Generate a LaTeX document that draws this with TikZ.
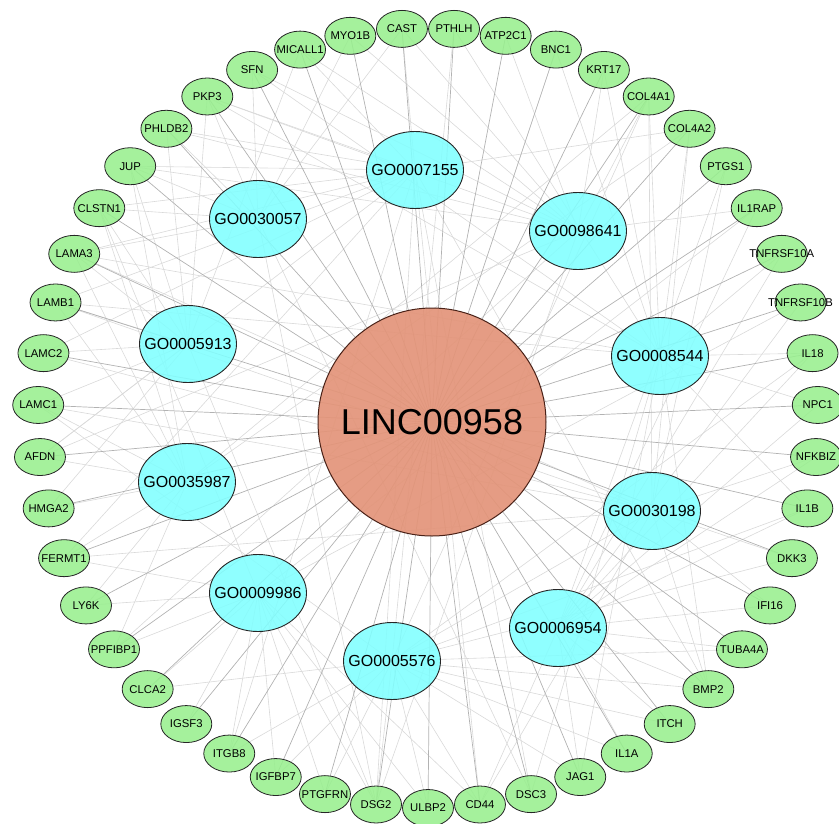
\documentclass[tikz,border=0pt]{standalone}
\usepackage{fontspec}
\setmainfont{Liberation Sans}
\usetikzlibrary{shapes.geometric}
\pgfdeclarelayer{background}
\pgfsetlayers{background,main}
\definecolor{genegreen}{HTML}{98EF8E}
\definecolor{gocyan}{HTML}{80FFFF}
\definecolor{hubsalmon}{HTML}{E39479}
\definecolor{hubline}{HTML}{4A2218}
\begin{document}
\begin{tikzpicture}[x=1pt,y=1pt,
  gene/.style={ellipse, draw=black!85, line width=0.8pt, fill=genegreen, fill opacity=0.88, text opacity=1,
    minimum width=51pt, minimum height=37pt, inner sep=0pt, font=\fontsize{11.3}{13}\selectfont},
  goterm/.style={ellipse, draw=black!85, line width=0.9pt, fill=gocyan, fill opacity=0.88, text opacity=1,
    minimum width=97pt, minimum height=77pt, inner sep=0pt, font=\fontsize{16}{18}\selectfont},
  hub/.style={circle, draw=hubline, line width=1pt, fill=hubsalmon, fill opacity=0.92, text opacity=1,
    minimum size=228pt, inner sep=0pt, font=\fontsize{36}{40}\selectfont},
  hubedge/.style={draw=black!30, line width=0.7pt},
  goedge/.style={draw=black!15, line width=0.6pt}]
\useasboundingbox (0,0) rectangle (839,-823);
% hub
\node[hub] (LINC) at (432,-422) {\makebox[0pt]{LINC00958}};
% GO terms
\foreach \t/\x/\y in {GO0007155/415/170, GO0098641/578/231, GO0008544/660/356, GO0030198/652/511,
  GO0006954/558/628, GO0005576/392/661, GO0009986/258/593, GO0035987/187/482,
  GO0005913/188/344, GO0030057/258/219}
  \node[goterm] (\t) at (\x,-\y) {\makebox[0pt]{\t}};
% genes
\foreach \g [count=\k from 0] in {ULBP2,DSG2,PTGFRN,IGFBP7,ITGB8,IGSF3,CLCA2,PPFIBP1,LY6K,FERMT1,HMGA2,AFDN,
  LAMC1,LAMC2,LAMB1,LAMA3,CLSTN1,JUP,PHLDB2,PKP3,SFN,MICALL1,MYO1B,CAST,PTHLH,ATP2C1,BNC1,KRT17,
  COL4A1,COL4A2,PTGS1,IL1RAP,TNFRSF10A,TNFRSF10B,IL18,NPC1,NFKBIZ,IL1B,DKK3,IFI16,TUBA4A,BMP2,ITCH,
  IL1A,JAG1,DSC3,CD44}
  \node[gene] (\g) at ([shift={(428,-418)}]{270-\k*7.6595745}:390) {\makebox[0pt]{\g}};
\begin{pgfonlayer}{background}
% GO - gene edges
\foreach \t/\lst in {
  GO0007155/{CLSTN1,JUP,PKP3,DSG2,DSC3,CD44,LAMA3,LAMB1,LAMC2,AFDN,ITGB8,FERMT1,COL4A2,BMP2,PHLDB2,CAST,MICALL1},
  GO0098641/{JUP,PKP3,SFN,MICALL1,MYO1B,CAST,AFDN,DSG2,PHLDB2,PPFIBP1,KRT17,ATP2C1,COL4A1,IL1RAP},
  GO0008544/{KRT17,PTHLH,BNC1,SFN,PKP3,DSC3,JAG1,BMP2,LAMA3,LAMB1,COL4A1,COL4A2,TNFRSF10A,IL18,NPC1,IL1B},
  GO0030198/{COL4A1,COL4A2,LAMA3,LAMB1,LAMC1,LAMC2,CD44,BMP2,ITGB8,FERMT1,NFKBIZ,DKK3,PTGS1,IFI16},
  GO0006954/{IL1A,IL1B,IL18,IL1RAP,NFKBIZ,PTGS1,IFI16,TNFRSF10A,TNFRSF10B,ITCH,CD44,NPC1,TUBA4A,BMP2,JAG1},
  GO0005576/{IL1A,IL1B,IL18,BMP2,PTHLH,COL4A1,LAMC1,IGFBP7,DKK3,TUBA4A,CLCA2,ULBP2,JAG1,DSG2,PTGFRN,ITCH,CD44},
  GO0009986/{CD44,ULBP2,IL1RAP,TNFRSF10B,LY6K,CLCA2,IGSF3,ITGB8,PTGFRN,IGFBP7,DSG2,CLSTN1,PPFIBP1,FERMT1},
  GO0035987/{LAMA3,LAMB1,LAMC1,COL4A1,COL4A2,HMGA2,AFDN,FERMT1,LY6K,PPFIBP1,CLSTN1,JUP},
  GO0005913/{AFDN,JUP,PKP3,DSG2,LAMB1,LAMC2,LAMC1,PHLDB2,MICALL1,CLSTN1,LAMA3,HMGA2},
  GO0030057/{JUP,PKP3,DSG2,DSC3,PHLDB2,SFN,MYO1B,CLSTN1,LAMA3,CAST}}
  \foreach \g in \lst
    \draw[goedge] (\t.center) -- (\g.center);
% hub - gene edges
\foreach \g in {ULBP2,DSG2,PTGFRN,IGFBP7,ITGB8,IGSF3,CLCA2,PPFIBP1,LY6K,FERMT1,HMGA2,AFDN,
  LAMC1,LAMC2,LAMB1,LAMA3,CLSTN1,JUP,PHLDB2,PKP3,SFN,MICALL1,MYO1B,CAST,PTHLH,ATP2C1,BNC1,KRT17,
  COL4A1,COL4A2,PTGS1,IL1RAP,TNFRSF10A,TNFRSF10B,IL18,NPC1,NFKBIZ,IL1B,DKK3,IFI16,TUBA4A,BMP2,ITCH,
  IL1A,JAG1,DSC3,CD44}
  \draw[hubedge] (LINC.center) -- (\g.center);
\end{pgfonlayer}
\end{tikzpicture}
\end{document}
